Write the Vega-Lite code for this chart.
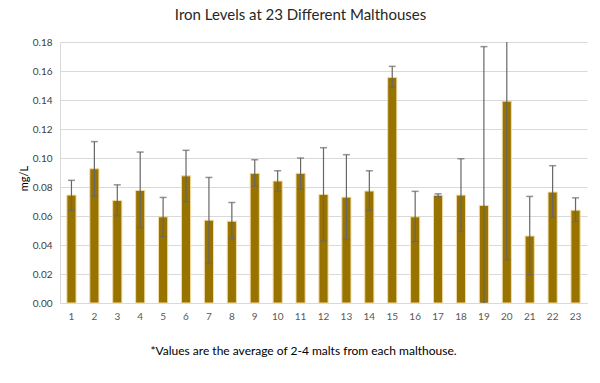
{
  "$schema": "https://vega.github.io/schema/vega-lite/v6.json",
  "width": 527,
  "height": 261,
  "autosize": {"type": "none"},
  "padding": {"left": 60, "top": 42, "right": 13, "bottom": 80},
  "background": "white",
  "title": {
    "text": "Iron Levels at 23 Different Malthouses",
    "font": "Lato",
    "fontSize": 15,
    "fontWeight": "normal",
    "color": "#262626",
    "anchor": "middle",
    "dx": -23,
    "offset": 14
  },
  "data": {
    "values": [
      {"house": "1", "mean": 0.0744, "lo": 0.0638, "hi": 0.0846},
      {"house": "2", "mean": 0.0926, "lo": 0.0735, "hi": 0.1113},
      {"house": "3", "mean": 0.0707, "lo": 0.0603, "hi": 0.0815},
      {"house": "4", "mean": 0.0776, "lo": 0.0520, "hi": 0.1041},
      {"house": "5", "mean": 0.0594, "lo": 0.0458, "hi": 0.0728},
      {"house": "6", "mean": 0.0877, "lo": 0.0698, "hi": 0.1053},
      {"house": "7", "mean": 0.0571, "lo": 0.0273, "hi": 0.0866},
      {"house": "8", "mean": 0.0564, "lo": 0.0444, "hi": 0.0693},
      {"house": "9", "mean": 0.0894, "lo": 0.0806, "hi": 0.0988},
      {"house": "10", "mean": 0.0841, "lo": 0.0770, "hi": 0.0912},
      {"house": "11", "mean": 0.0894, "lo": 0.0785, "hi": 0.1000},
      {"house": "12", "mean": 0.0749, "lo": 0.0428, "hi": 0.1071},
      {"house": "13", "mean": 0.0730, "lo": 0.0439, "hi": 0.1023},
      {"house": "14", "mean": 0.0772, "lo": 0.0638, "hi": 0.0912},
      {"house": "15", "mean": 0.1556, "lo": 0.1489, "hi": 0.1632},
      {"house": "16", "mean": 0.0594, "lo": 0.0424, "hi": 0.0770},
      {"house": "17", "mean": 0.0742, "lo": 0.0734, "hi": 0.0753},
      {"house": "18", "mean": 0.0744, "lo": 0.0493, "hi": 0.0995},
      {"house": "19", "mean": 0.0673, "lo": 0.0, "hi": 0.1768},
      {"house": "20", "mean": 0.1392, "lo": 0.0299, "hi": 0.2485},
      {"house": "21", "mean": 0.0462, "lo": 0.0195, "hi": 0.0735},
      {"house": "22", "mean": 0.0765, "lo": 0.0592, "hi": 0.0947},
      {"house": "23", "mean": 0.0640, "lo": 0.0562, "hi": 0.0725}
    ]
  },
  "encoding": {
    "x": {
      "field": "house",
      "type": "ordinal",
      "sort": null,
      "scale": {"paddingInner": 0.6, "paddingOuter": 0.3},
      "axis": {
        "title": "*Values are the average of 2-4 malts from each malthouse.",
        "titleFont": "Lato",
        "titleFontSize": 12,
        "titleFontWeight": "normal",
        "titleColor": "#000000",
        "titlePadding": 24,
        "titleX": 243,
        "labelAngle": 0,
        "labelFont": "Lato",
        "labelFontSize": 10,
        "labelColor": "#595959",
        "labelPadding": 8,
        "ticks": false,
        "domainColor": "#d9d9d9",
        "grid": false
      }
    }
  },
  "layer": [
    {
      "mark": {"type": "bar", "color": "#997300", "stroke": "#f2dca6", "strokeWidth": 1},
      "encoding": {
        "y": {
          "field": "mean",
          "type": "quantitative",
          "scale": {"domain": [0, 0.18], "nice": false},
          "axis": {"title": "mg/L", "values": [0, 0.02, 0.04, 0.06, 0.08, 0.1, 0.12, 0.14, 0.16, 0.18]}
        }
      }
    },
    {
      "mark": {"type": "rule", "color": "#666666", "strokeWidth": 1.2, "clip": true},
      "encoding": {
        "y": {"field": "lo", "type": "quantitative", "axis": {"title": "mg/L", "values": [0, 0.02, 0.04, 0.06, 0.08, 0.1, 0.12, 0.14, 0.16, 0.18]}},
        "y2": {"field": "hi"}
      }
    },
    {
      "mark": {"type": "tick", "color": "#666666", "thickness": 1.5, "size": 7, "clip": true},
      "encoding": {
        "y": {"field": "lo", "type": "quantitative", "axis": {"title": "mg/L", "values": [0, 0.02, 0.04, 0.06, 0.08, 0.1, 0.12, 0.14, 0.16, 0.18]}}
      }
    },
    {
      "mark": {"type": "tick", "color": "#666666", "thickness": 1.5, "size": 7, "clip": true},
      "encoding": {
        "y": {"field": "hi", "type": "quantitative", "axis": {"title": "mg/L", "values": [0, 0.02, 0.04, 0.06, 0.08, 0.1, 0.12, 0.14, 0.16, 0.18]}}
      }
    }
  ],
  "config": {
    "view": {"stroke": null},
    "axisY": {
      "titleFont": "Lato",
      "titleFontSize": 11,
      "titleFontWeight": "normal",
      "titleColor": "#000000",
      "titlePadding": 3,
      "titleY": 136,
      "labelOverlap": false,
      "format": ".2f",
      "labelFont": "Lato",
      "labelFontSize": 10,
      "labelColor": "#404040",
      "labelPadding": 8,
      "ticks": false,
      "domain": true,
      "domainColor": "#d9d9d9",
      "gridColor": "#d9d9d9",
      "gridWidth": 1
    }
  }
}
